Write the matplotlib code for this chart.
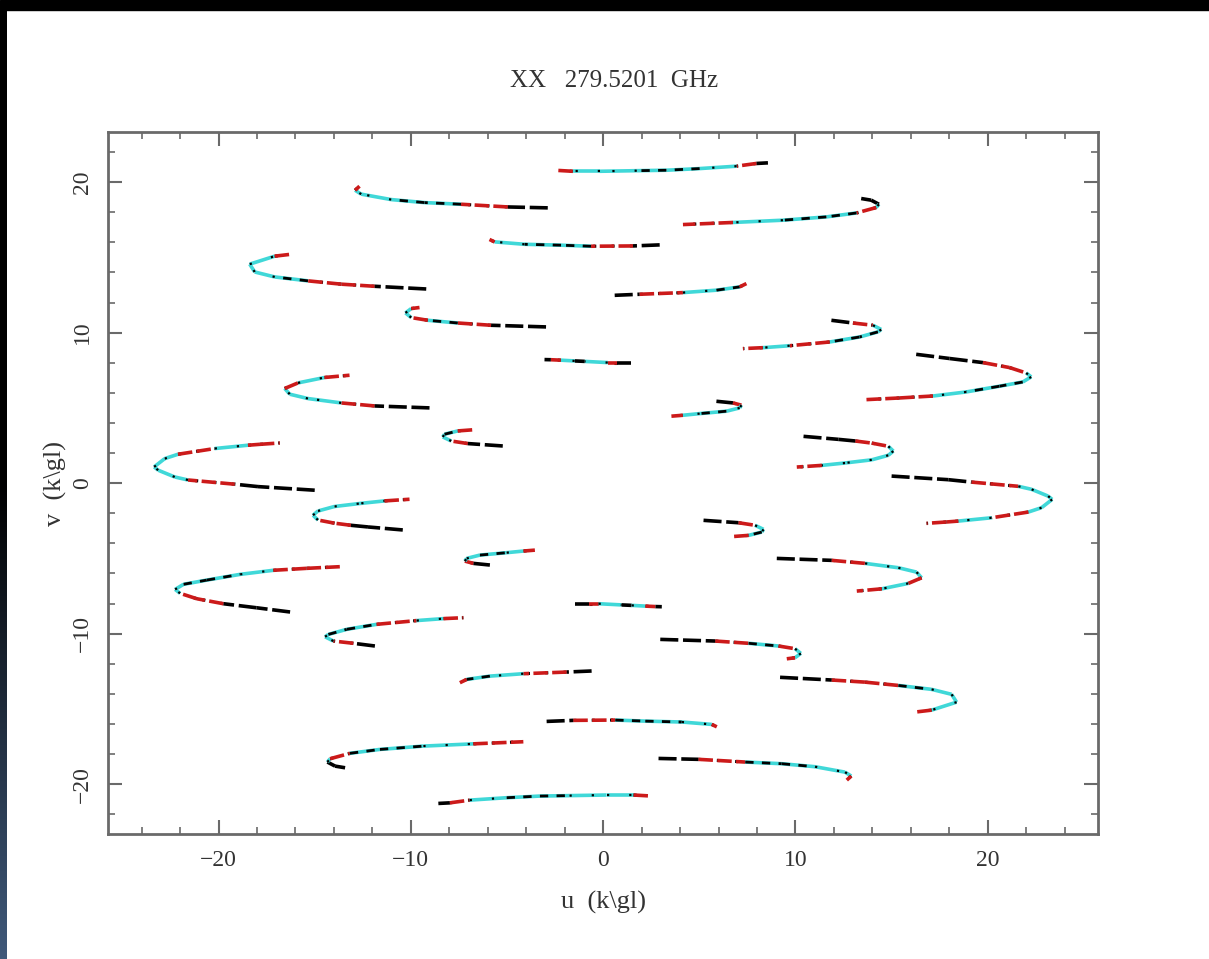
import matplotlib
matplotlib.use("Agg")
import matplotlib.pyplot as plt
import numpy as np
from matplotlib.patches import Rectangle

# uv tracks, one per baseline, in time order
# colour codes per segment: k black, r red, c cyan, m cyan with black
b1_u = [8.57, 7.97, 6.94, 5.02, 3.29, 1.75, -0.18, -1.58, -2.53]
b1_v = [21.28, 21.24, 21.06, 20.90, 20.79, 20.76, 20.72, 20.72, 20.79]
b1_c = "krcmmccr"

b2_u = [-2.88, -4.96, -7.39, -9.29, -11.02, -12.58, -12.90, -12.67]
b2_v = [18.29, 18.35, 18.53, 18.64, 18.84, 19.20, 19.46, 19.73]
b2_c = "krmmccr"

b3_u = [13.42, 13.94, 14.34, 14.20, 13.17, 11.61, 9.35, 6.75, 4.15]
b3_v = [18.91, 18.80, 18.53, 18.31, 17.95, 17.69, 17.47, 17.32, 17.18]
b3_c = "kkcrmmcr"

b4_u = [2.94, 1.55, -0.63, -2.19, -4.09, -5.65, -5.91]
b4_v = [15.83, 15.76, 15.74, 15.81, 15.87, 16.03, 16.19]
b4_c = "krmmcr"

b5_u = [-9.20, -11.89, -13.62, -15.35, -17.08, -18.12, -18.38, -17.08, -16.22]
b5_v = [12.90, 13.08, 13.22, 13.44, 13.70, 14.03, 14.55, 15.08, 15.21]
b5_c = "krrmcccr"

b6_u = [0.60, 1.90, 4.15, 5.89, 7.10, 7.45]
b6_v = [12.48, 12.55, 12.66, 12.82, 13.04, 13.26]
b6_c = "krcmr"

b7_u = [-2.97, -5.83, -7.56, -9.12, -9.98, -10.28, -9.98, -9.55]
b7_v = [10.38, 10.49, 10.64, 10.82, 11.00, 11.31, 11.60, 11.67]
b7_c = "krmrccr"

b8_u = [11.87, 12.99, 14.03, 14.46, 14.29, 13.33, 11.78, 9.70, 8.30, 7.27]
b8_v = [10.82, 10.64, 10.49, 10.21, 10.05, 9.71, 9.38, 9.13, 9.00, 8.94]
b8_c = "krccmmrcr"

b9_u = [1.47, 0.71, 0.24, -0.96, -1.48, -2.20, -2.72, -3.05]
b9_v = [8.01, 8.01, 8.01, 8.09, 8.12, 8.17, 8.20, 8.21]
b9_c = "krckcrk"

b10_u = [16.28, 18.02, 19.75, 21.13, 22.00, 22.26, 21.82, 20.61, 18.88, 17.15, 15.42, 13.69]
b10_v = [8.56, 8.28, 8.01, 7.68, 7.32, 7.06, 6.72, 6.44, 6.06, 5.79, 5.66, 5.55]
b10_c = "kkrrccmmcrr"

b11_u = [-9.03, -11.89, -13.62, -15.35, -16.30, -16.56, -15.87, -14.49, -13.19]
b11_v = [5.00, 5.13, 5.33, 5.62, 5.91, 6.29, 6.66, 7.02, 7.17]
b11_c = "krcccrcr"

b12_u = [-5.22, -7.04, -7.90, -8.34, -8.25, -7.56, -6.61]
b12_v = [2.47, 2.63, 2.80, 3.07, 3.25, 3.47, 3.56]
b12_c = "krccmr"

b13_u = [5.89, 6.75, 7.19, 7.10, 6.41, 5.02, 4.14, 3.55]
b13_v = [5.44, 5.33, 5.18, 5.00, 4.78, 4.62, 4.51, 4.45]
b13_c = "krccmcr"

b14_u = [-15.00, -17.95, -19.16, -21.59, -22.28, -23.14, -23.35, -22.80, -22.11, -20.20, -18.47, -17.85, -16.82]
b14_v = [-0.47, -0.23, -0.07, 0.21, 0.41, 0.86, 1.08, 1.63, 1.92, 2.30, 2.52, 2.58, 2.67]
b14_c = "kkrcccccrcrr"

b15_u = [-10.42, -12.23, -13.12, -13.97, -14.83, -15.09, -14.83, -13.97, -12.58, -11.37, -10.07]
b15_v = [-3.11, -2.91, -2.80, -2.66, -2.45, -2.13, -1.85, -1.55, -1.34, -1.18, -1.07]
b15_c = "kkrrcccccr"

tracks = [(b1_u, b1_v, b1_c), (b2_u, b2_v, b2_c), (b3_u, b3_v, b3_c),
          (b4_u, b4_v, b4_c), (b5_u, b5_v, b5_c), (b6_u, b6_v, b6_c),
          (b7_u, b7_v, b7_c), (b8_u, b8_v, b8_c), (b9_u, b9_v, b9_c),
          (b10_u, b10_v, b10_c), (b11_u, b11_v, b11_c), (b12_u, b12_v, b12_c),
          (b13_u, b13_v, b13_c), (b14_u, b14_v, b14_c), (b15_u, b15_v, b15_c)]

CYAN = "#40d8d8"
RED = "#cc1a1a"
GREY = "#6a6a6a"
TXT = "#333333"
SERIF = ["Liberation Serif", "DejaVu Serif"]


def draw_seg(ax, uu, vv, code):
    if code == "c":
        ax.plot(uu, vv, color=CYAN, lw=2.6, solid_capstyle="butt")
        ax.plot(uu, vv, color="k", lw=1.6, dashes=(1, 9))
    elif code == "m":
        ax.plot(uu, vv, color=CYAN, lw=2.6, solid_capstyle="butt")
        ax.plot(uu, vv, color="k", lw=2.0, dashes=(3, 3))
    elif code == "r":
        ax.plot(uu, vv, color="k", lw=2.2, dashes=(1, 5))
        ax.plot(uu, vv, color=RED, lw=2.6, dashes=(4, 1.2))
    else:
        ax.plot(uu, vv, color="k", lw=2.6, dashes=(5, 1.3))


fig = plt.figure(figsize=(12.09, 9.59), dpi=100)
W, H = 1209, 959
ax = fig.add_axes([108 / W, 1 - 834.3 / H, 990.3 / W, 702.3 / H])

for uu, vv, cc in tracks:
    uu = np.array(uu)
    vv = np.array(vv)
    for i, code in enumerate(cc):
        draw_seg(ax, uu[i:i + 2], vv[i:i + 2], code)
        # conjugate point (-u, -v)
        draw_seg(ax, -uu[i:i + 2], -vv[i:i + 2], code)

ax.set_xlim(-25.75, 25.75)
ax.set_ylim(-23.33, 23.33)
ax.set_xticks([-20, -10, 0, 10, 20])
ax.set_yticks([-20, -10, 0, 10, 20])
ax.set_xticks(np.arange(-24, 25, 2), minor=True)
ax.set_yticks(np.arange(-22, 23, 2), minor=True)
ax.tick_params(which="both", direction="in", top=True, right=True, color=GREY,
               labelcolor=TXT, labelsize=17)
ax.tick_params(which="major", length=10, width=1.5, pad=11)
ax.tick_params(which="minor", length=5, width=1.2)
ax.tick_params(axis="y", labelrotation=90)
for lab in ax.get_xticklabels() + ax.get_yticklabels():
    lab.set_family(SERIF)
for lab in ax.get_yticklabels():
    lab.set_va("center")
for sp in ax.spines.values():
    sp.set_color(GREY)
    sp.set_linewidth(2)

ax.set_xlabel(r"u  (k\gl)", family=SERIF, size=19, color=TXT)
ax.set_ylabel(r"v  (k\gl)", family=SERIF, size=19, color=TXT)
ax.xaxis.set_label_coords(0.5, -(902 - 834.3) / 702.3)
ax.xaxis.label.set_va("center")
ax.yaxis.set_label_coords((55 - 108) / 990.3, 0.5)
ax.yaxis.label.set_va("center")

fig.text(614 / W, 1 - 81 / H, "XX   279.5201  GHz", ha="center", va="center",
         family=SERIF, size=18, color=TXT)

# dark frame edges of the screenshot
fig.add_artist(Rectangle((0, 1 - 10 / H), 1, 10 / H, transform=fig.transFigure,
                         color="black", zorder=5))
sax = fig.add_axes([0, 0, 7 / W, 1 - 10 / H])
t = np.linspace(0, 1, 400)
mix = np.clip((t - 0.5) / 0.5, 0, 1)
grad = np.stack([0.25 * mix, 0.35 * mix, 0.48 * mix], axis=1)[:, None, :]
sax.imshow(grad, aspect="auto")
sax.axis("off")

fig.savefig("out.png", dpi=100)
